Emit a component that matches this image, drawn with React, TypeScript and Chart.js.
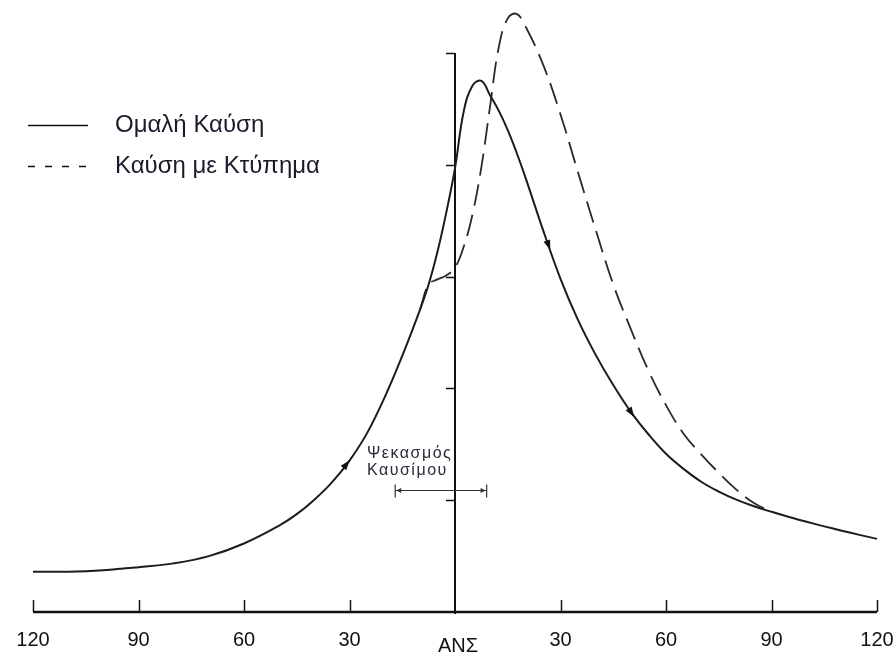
import React, { useEffect, useRef } from "react";
import { Chart, registerables } from "chart.js";

Chart.register(...registerables);

// Crank angle (degrees, relative to TDC) and cylinder pressure (axis units)
const ANGLES_NORMAL = [
  -120, -110, -100, -90, -80, -70, -60, -50, -45, -40, -35, -30, -25, -20, -15, -10, -7.5, -5,
  -2.5, 0, 2.5, 5, 7.5, 10, 12.5, 15, 17.5, 20, 25, 30, 35, 40, 45, 50, 55, 60, 65, 70, 75, 80,
  85, 90, 95, 100, 105, 110, 115, 120, 122,
];
const PRESSURE_NORMAL = [
  0.36, 0.36, 0.373, 0.4, 0.435, 0.5, 0.613, 0.773, 0.875, 1.005, 1.16, 1.354, 1.6, 1.92, 2.29,
  2.7, 2.93, 3.22, 3.57, 3.97, 4.48, 4.71, 4.75, 4.62, 4.48, 4.31, 4.11, 3.89, 3.42, 2.98, 2.61,
  2.3, 2.03, 1.79, 1.59, 1.415, 1.28, 1.165, 1.077, 1.005, 0.946, 0.896, 0.85, 0.807, 0.766,
  0.727, 0.69, 0.654, 0.64,
];

// Knocking combustion: departs from the normal curve just before TDC, rejoins near 90°
const ANGLES_KNOCK = [
  -10, -7.5, -5, -2.5, 0, 2.5, 5, 7.5, 10, 12.5, 15, 17.5, 20, 25, 30, 35, 40, 45, 50, 55, 60, 65,
  70, 75, 80, 85, 90,
];
const PRESSURE_KNOCK = [
  2.7, 2.93, 2.975, 3.01, 3.08, 3.27, 3.56, 3.98, 4.53, 5.06, 5.31, 5.35, 5.24, 4.9, 4.45, 3.93,
  3.42, 2.93, 2.53, 2.16, 1.85, 1.595, 1.41, 1.245, 1.095, 0.975, 0.896,
];

const X_TICKS = [-120, -90, -60, -30, 0, 30, 60, 90, 120];
const X_TICK_LABELS = ["120", "90", "60", "30", "ΑΝΣ", "30", "60", "90", "120"];
const Y_TICKS = [0, 1, 2, 3, 4, 5];

const SERIES_LABELS = ["Ομαλή Καύση", "Καύση με Κτύπημα"];

// Fuel injection window (crank angle) and the level its bracket is drawn at
const INJECTION_START = -17;
const INJECTION_END = 9;
const INJECTION_LEVEL = 1.09;
const INJECTION_TEXT = ["Ψεκασμός", "Καυσίμου"];

// Direction arrows along the normal combustion curve
const ARROW_ANGLES = [-31, 26.5, 50];

const FONT = '"Liberation Sans", Arial, sans-serif';

function toPoints(xs: number[], ys: number[]) {
  return xs.map((x, i) => ({ x, y: ys[i] }));
}

function pointOnLine(meta: any, px: number) {
  const pts = meta.data;
  for (let i = 0; i < pts.length - 1; i++) {
    const a = pts[i];
    const b = pts[i + 1];
    if (px >= a.x && px <= b.x) {
      const t = (px - a.x) / (b.x - a.x || 1);
      return { x: px, y: a.y + (b.y - a.y) * t, dx: b.x - a.x, dy: b.y - a.y };
    }
  }
  return null;
}

const drawingPlugin = {
  id: "engineDiagram",
  beforeDatasetsDraw(chart: any) {
    const { ctx, chartArea, scales } = chart;
    const xs = scales.x;
    const ys = scales.y;
    const y0 = ys.getPixelForValue(0);
    const x0 = xs.getPixelForValue(0);
    ctx.save();
    ctx.strokeStyle = "#111";
    ctx.lineCap = "butt";

    // horizontal axis
    ctx.lineWidth = 2.5;
    ctx.beginPath();
    ctx.moveTo(chartArea.left, y0);
    ctx.lineTo(chartArea.right, y0);
    ctx.stroke();

    // ticks pointing up from the horizontal axis
    ctx.lineWidth = 1.5;
    X_TICKS.forEach((v) => {
      const px = Math.round(xs.getPixelForValue(v)) + 0.5;
      if (v === 0) return;
      ctx.beginPath();
      ctx.moveTo(px, y0);
      ctx.lineTo(px, y0 - 12);
      ctx.stroke();
    });

    // vertical axis at TDC
    ctx.lineWidth = 2;
    ctx.beginPath();
    ctx.moveTo(x0, y0 + 2);
    ctx.lineTo(x0, ys.getPixelForValue(5));
    ctx.stroke();

    ctx.lineWidth = 1.5;
    Y_TICKS.forEach((v) => {
      if (v === 0) return;
      const py = Math.round(ys.getPixelForValue(v)) + 0.5;
      ctx.beginPath();
      ctx.moveTo(x0 - 9, py);
      ctx.lineTo(x0, py);
      ctx.stroke();
    });

    // tick labels
    ctx.fillStyle = "#111";
    ctx.font = `20px ${FONT}`;
    ctx.textAlign = "center";
    ctx.textBaseline = "middle";
    X_TICKS.forEach((v, i) => {
      const px = xs.getPixelForValue(v);
      const dy = v === 0 ? 34 : 28;
      ctx.fillText(X_TICK_LABELS[i], px + (v === 0 ? 3 : 0), y0 + dy);
    });
    ctx.restore();
  },
  afterDatasetsDraw(chart: any) {
    const { ctx, scales } = chart;
    const xs = scales.x;
    const ys = scales.y;
    ctx.save();

    // direction arrows on the normal curve
    const meta = chart.getDatasetMeta(0);
    ctx.fillStyle = "#111";
    ARROW_ANGLES.forEach((a) => {
      const p = pointOnLine(meta, xs.getPixelForValue(a));
      if (!p) return;
      const len = Math.hypot(p.dx, p.dy) || 1;
      const ux = p.dx / len;
      const uy = p.dy / len;
      const nx = -uy;
      const ny = ux;
      ctx.beginPath();
      ctx.moveTo(p.x + ux * 6, p.y + uy * 6);
      ctx.lineTo(p.x - ux * 4 + nx * 3.5, p.y - uy * 4 + ny * 3.5);
      ctx.lineTo(p.x - ux * 4 - nx * 3.5, p.y - uy * 4 - ny * 3.5);
      ctx.closePath();
      ctx.fill();
    });

    // injection bracket
    const bx1 = xs.getPixelForValue(INJECTION_START);
    const bx2 = xs.getPixelForValue(INJECTION_END);
    const by = Math.round(ys.getPixelForValue(INJECTION_LEVEL)) + 0.5;
    ctx.strokeStyle = "#333";
    ctx.lineWidth = 1.2;
    ctx.beginPath();
    ctx.moveTo(bx1, by);
    ctx.lineTo(bx2, by);
    ctx.moveTo(bx1, by - 6);
    ctx.lineTo(bx1, by + 7);
    ctx.moveTo(bx2, by - 6);
    ctx.lineTo(bx2, by + 7);
    ctx.stroke();
    ctx.fillStyle = "#333";
    ctx.beginPath();
    ctx.moveTo(bx1 + 1, by);
    ctx.lineTo(bx1 + 6, by - 2.5);
    ctx.lineTo(bx1 + 6, by + 2.5);
    ctx.closePath();
    ctx.fill();
    ctx.beginPath();
    ctx.moveTo(bx2 - 1, by);
    ctx.lineTo(bx2 - 6, by - 2.5);
    ctx.lineTo(bx2 - 6, by + 2.5);
    ctx.closePath();
    ctx.fill();

    ctx.fillStyle = "#2a2a3a";
    ctx.font = `16px ${FONT}`;
    (ctx as any).letterSpacing = "1.5px";
    ctx.textAlign = "left";
    ctx.textBaseline = "middle";
    ctx.fillText(INJECTION_TEXT[0], 367, by - 37);
    ctx.fillText(INJECTION_TEXT[1], 367, by - 20);
    (ctx as any).letterSpacing = "0px";

    // legend
    const items = [
      { y: 125, dash: [] as number[] },
      { y: 166, dash: [7, 10] },
    ];
    items.forEach((it, i) => {
      ctx.strokeStyle = "#111";
      ctx.lineWidth = 1.6;
      ctx.setLineDash(it.dash);
      ctx.beginPath();
      ctx.moveTo(28, it.y + 0.5);
      ctx.lineTo(88, it.y + 0.5);
      ctx.stroke();
      ctx.setLineDash([]);
      ctx.fillStyle = "#1a1a2a";
      ctx.font = `24px ${FONT}`;
      ctx.textAlign = "left";
      ctx.textBaseline = "middle";
      ctx.fillText(SERIES_LABELS[i], 115, it.y);
    });

    ctx.restore();
  },
};

export default function App() {
  const canvasRef = useRef<HTMLCanvasElement | null>(null);

  useEffect(() => {
    if (!canvasRef.current) return;
    const chart = new Chart(canvasRef.current, {
      type: "line",
      data: {
        datasets: [
          {
            label: SERIES_LABELS[0],
            data: toPoints(ANGLES_NORMAL, PRESSURE_NORMAL),
            borderColor: "#1c1c1c",
            borderWidth: 2,
            pointRadius: 0,
            tension: 0.4,
            fill: false,
            clip: false as any,
          },
          {
            label: SERIES_LABELS[1],
            data: toPoints(ANGLES_KNOCK, PRESSURE_KNOCK),
            borderColor: "#2a2a2a",
            borderWidth: 1.8,
            borderDash: [22, 9],
            pointRadius: 0,
            tension: 0.4,
            fill: false,
            clip: false as any,
          },
        ],
      },
      options: {
        responsive: false,
        animation: false,
        devicePixelRatio: 1,
        layout: { padding: { left: 33, right: 19, top: 53, bottom: 45 } },
        plugins: { legend: { display: false }, tooltip: { enabled: false } },
        scales: {
          x: { type: "linear", min: -120, max: 120, display: false },
          y: { type: "linear", min: 0, max: 5, display: false },
        },
      },
      plugins: [drawingPlugin],
    });
    return () => chart.destroy();
  }, []);

  return (
    <div style={{ position: "absolute", left: 0, top: 0, width: 896, height: 657, background: "#fff" }}>
      <canvas ref={canvasRef} width={896} height={657} style={{ display: "block" }} />
    </div>
  );
}
